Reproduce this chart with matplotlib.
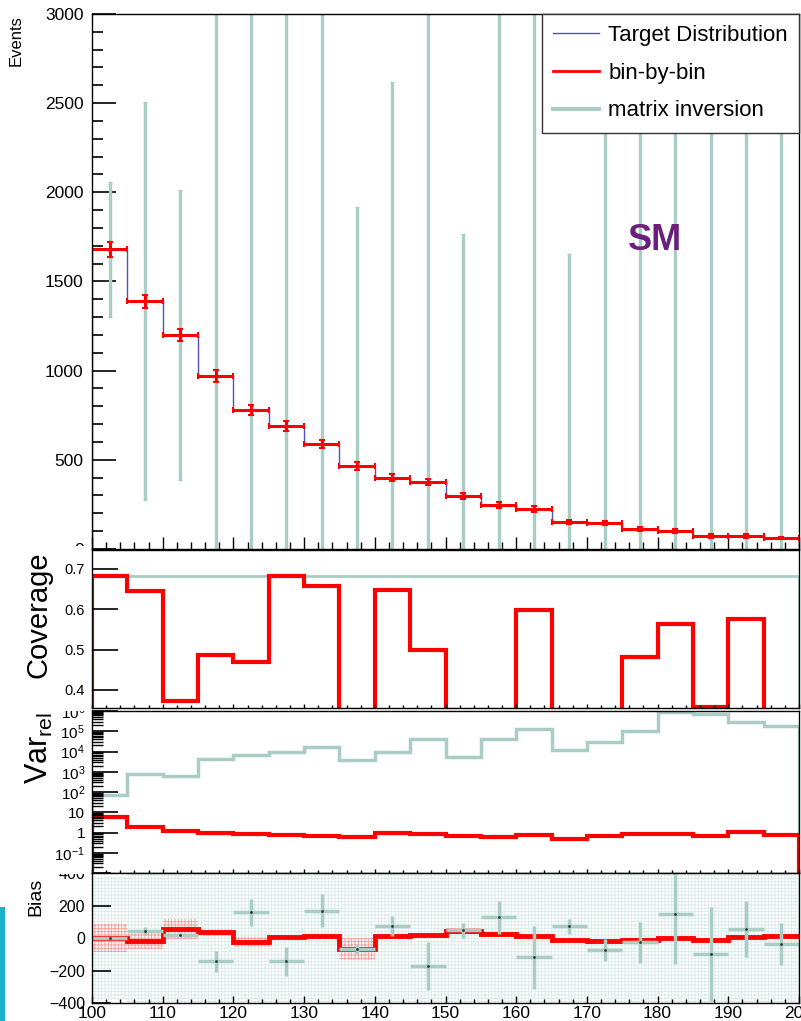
import numpy as np
import matplotlib.pyplot as plt
from matplotlib.lines import Line2D
from matplotlib.patches import Rectangle
from matplotlib.ticker import MultipleLocator, FixedLocator, FixedFormatter, LogLocator, NullFormatter

plt.rcParams['font.family'] = ['Liberation Sans', 'DejaVu Sans']
plt.rcParams['mathtext.fontset'] = 'custom'
plt.rcParams['mathtext.rm'] = 'Liberation Sans'
plt.rcParams['mathtext.it'] = 'Liberation Sans:italic'
plt.rcParams['hatch.linewidth'] = 0.6

# bins 100..200, width 5
edges = np.arange(100, 205, 5)
centers = edges[:-1] + 2.5

# top panel: events
target = [1680, 1390, 1200, 970, 780, 690, 590, 465, 400, 376,
          298, 247, 225, 152, 146, 112, 101, 73, 73, 62]
bbb = [1680, 1390, 1200, 970, 780, 690, 590, 465, 400, 376,
       298, 247, 225, 152, 146, 112, 101, 73, 73, 62]
bbb_err = [41, 37, 35, 31, 28, 26, 24, 22, 20, 19,
           17, 16, 15, 12, 12, 11, 10, 9, 9, 8]
mi_val = [1680, 1390, 1200, 826, 937, 546, 758, 397, 472, 206,
          347, 374, 106, 224, 72, 85, 249, -25, 128, 25]
mi_err = [379, 1115, 812, 9000, 9000, 9000, 9000, 1519, 2146, 9000,
          1417, 9000, 9000, 1428, 9000, 9000, 9000, 9000, 9000, 9000]

# coverage
cov_bbb = [0.683, 0.646, 0.372, 0.486, 0.470, 0.683, 0.657, 0.35, 0.648, 0.500,
           0.35, 0.35, 0.598, 0.35, 0.35, 0.482, 0.564, 0.358, 0.577, 0.35]
cov_mi = [0.683, 0.683, 0.683, 0.683, 0.683, 0.683, 0.683, 0.683, 0.683, 0.683,
          0.683, 0.683, 0.683, 0.683, 0.683, 0.683, 0.683, 0.683, 0.683, 0.683]

# relative variance
var_bbb = [5.9, 1.82, 1.25, 0.97, 0.86, 0.77, 0.71, 0.61, 0.97, 0.86,
           0.66, 0.61, 0.74, 0.49, 0.66, 0.89, 0.89, 0.66, 1.04, 0.74]
var_mi = [69, 810, 640, 4270, 6940, 9500, 16600, 3950, 10000, 42700,
          5100, 42700, 133000, 12300, 28000, 106000, 890000, 720000, 283000, 172000]

# bias
bias_bbb = [0, -17, 55, 35, -23, 4, 10, -68, 10, 18,
            41, 25, 10, -10, -21, -10, -2, -10, 6, 12]
bias_bbb_band = [86, 50, 60, 20, 30, 10, 8, 70, 10, 8,
                 18, 12, 8, 8, 12, 8, 8, 8, 8, 8]
bias_mi = [0, 45, 20, -144, 157, -144, 168, -68, 72, -170,
           49, 127, -119, 72, -74, -27, 148, -98, 55, -37]
bias_mi_err = [0, 25, 10, 67, 82, 87, 103, 30, 62, 148,
               46, 103, 195, 46, 67, 128, 308, 287, 174, 128]

RED = '#ff0000'
MI = '#a9ccc5'
BLUE = '#5050cc'

W, H = 801, 1021
fig = plt.figure(figsize=(W / 100, H / 100), dpi=100)


def px_axes(top, bottom, left=92, right=799):
    return fig.add_axes([left / W, 1 - bottom / H, (right - left) / W, (bottom - top) / H])


def style_x(ax, major_len, minor_len, labels=False):
    ax.set_xlim(100, 200)
    ax.xaxis.set_major_locator(MultipleLocator(10))
    ax.xaxis.set_minor_locator(MultipleLocator(2))
    ax.tick_params(axis='x', which='major', direction='in', length=major_len, width=1,
                   top=False, labelbottom=labels)
    ax.tick_params(axis='x', which='minor', direction='in', length=minor_len, width=1, top=False)
    for s in ax.spines.values():
        s.set_linewidth(1.0)


# ---- top panel
ax1 = px_axes(14, 549)
ax1.set_zorder(0)
ax1.stairs(target, edges, baseline=0, color=BLUE, lw=1.0)
ax1.errorbar(centers, mi_val, yerr=mi_err, fmt='none', ecolor=MI, elinewidth=2.4, capsize=1.5)
ax1.errorbar(centers, bbb, xerr=2.5, yerr=bbb_err, fmt='none', ecolor=RED,
             elinewidth=2.2, capsize=2.5, capthick=1.5)
ax1.set_ylim(0, 3000)
ax1.yaxis.set_major_locator(MultipleLocator(500))
ax1.yaxis.set_minor_locator(MultipleLocator(100))
ax1.tick_params(axis='y', which='major', direction='in', length=17, width=1.2, labelsize=12.5, pad=6)
ax1.tick_params(axis='y', which='minor', direction='in', length=8, width=1.2)
style_x(ax1, 9, 5)

handles = [Line2D([], [], color=BLUE, lw=1.0),
           Line2D([], [], color=RED, lw=2),
           Line2D([], [], color=MI, lw=3)]
leg = ax1.legend(handles, ['Target Distribution', 'bin-by-bin', 'matrix inversion'],
                 loc='upper right', borderaxespad=0, fancybox=False, framealpha=1,
                 edgecolor='#333333', fontsize=16, handlelength=2.1, handletextpad=0.4,
                 labelspacing=0.75, borderpad=0.5)
leg.get_frame().set_linewidth(1.0)

fig.text(655 / W, 1 - 241 / H, 'SM', ha='center', va='center', fontsize=26,
         fontweight='bold', color='#6b1f7c')

# ---- coverage panel
ax2 = px_axes(550, 708)
ax2.set_zorder(1)
ax2.stairs(cov_mi, edges, baseline=0, color=MI, lw=2)
ax2.stairs(cov_bbb, edges, baseline=0, color=RED, lw=3)
ax2.set_ylim(0.355, 0.747)
ax2.yaxis.set_major_locator(FixedLocator([0.4, 0.5, 0.6, 0.7]))
ax2.tick_params(axis='y', which='major', direction='in', length=19, width=1.2, labelsize=10.5, pad=5)
ax2.tick_params(axis='y', which='minor', left=False)
style_x(ax2, 3, 2)

# ---- relative variance panel
ax3 = px_axes(711, 873)
ax3.set_zorder(2)
ax3.set_yscale('log')
ax3.stairs(var_mi, edges, baseline=1e-3, color=MI, lw=2.5)
ax3.stairs(var_bbb, edges, baseline=1e-3, color=RED, lw=3)
ax3.set_ylim(1e-2, 1e6)
var_ticks = [1e-1, 1, 10, 1e2, 1e3, 1e4, 1e5, 1e6]
var_labels = ['$10^{-1}$', '1', '10', '$10^{2}$', '$10^{3}$', '$10^{4}$', '$10^{5}$', '$10^{6}$']
ax3.yaxis.set_major_locator(FixedLocator(var_ticks))
ax3.yaxis.set_major_formatter(FixedFormatter(var_labels))
ax3.yaxis.set_minor_locator(LogLocator(base=10, subs=np.arange(2, 10), numticks=20))
ax3.yaxis.set_minor_formatter(NullFormatter())
ax3.tick_params(axis='y', which='major', direction='in', length=19, width=1.2, labelsize=11, pad=5)
ax3.tick_params(axis='y', which='minor', direction='in', length=8, width=1.0)
style_x(ax3, 3, 2)

# ---- bias panel
ax4 = px_axes(873, 1003)
ax4.set_zorder(3)
lo = [-e for e in mi_err]
ax4.stairs(mi_err, edges, baseline=lo, fill=True, facecolor='none', edgecolor='#d9eae6',
           lw=0, hatch='+++++')
lo_b = [b - e for b, e in zip(bias_bbb, bias_bbb_band)]
hi_b = [b + e for b, e in zip(bias_bbb, bias_bbb_band)]
ax4.stairs(hi_b, edges, baseline=lo_b, fill=True, facecolor='none', edgecolor='#ff9a9a',
           lw=0, hatch='+++++')
ax4.errorbar(centers, bias_mi, xerr=2.5, yerr=bias_mi_err, fmt='.', color='#333333',
             ms=2, ecolor=MI, elinewidth=2.5, capsize=0)
ax4.stairs(bias_bbb, edges, baseline=None, color=RED, lw=3.5)
ax4.set_ylim(-400, 400)
ax4.yaxis.set_major_locator(MultipleLocator(200))
ax4.tick_params(axis='y', which='major', direction='in', length=14, width=1.2, labelsize=11.5, pad=5)
style_x(ax4, 5, 3, labels=True)
ax4.tick_params(axis='x', labelsize=12.5, pad=2)

# pad borders clipping the edge labels, as in the original canvas
for y0, y1 in [(546, 560), (700, 711), (862, 874)]:
    fig.add_artist(Rectangle((0, 1 - y1 / H), 91 / W, (y1 - y0) / H, transform=fig.transFigure,
                             facecolor='white', edgecolor='none', zorder=5))

# axis titles, aligned at the top of each pad
fig.text(16 / W, 1 - 15 / H, 'Events', rotation=90, ha='center', va='top', fontsize=12, zorder=6)
fig.text(38 / W, 1 - 551 / H, 'Coverage', rotation=90, ha='center', va='top', fontsize=21, zorder=6)
fig.text(39 / W, 1 - 712 / H, r'Var$_{\rm rel}$', rotation=90, ha='center', va='top', fontsize=22, zorder=6)
fig.text(36 / W, 1 - 878 / H, 'Bias', rotation=90, ha='center', va='top', fontsize=14, zorder=6)

# cyan strip at the lower left edge of the screenshot
fig.add_artist(Rectangle((0, 0), 5 / W, 114 / H, transform=fig.transFigure,
                         facecolor='#19b3c6', edgecolor='none', zorder=6))

fig.savefig('out.png', dpi=100)
